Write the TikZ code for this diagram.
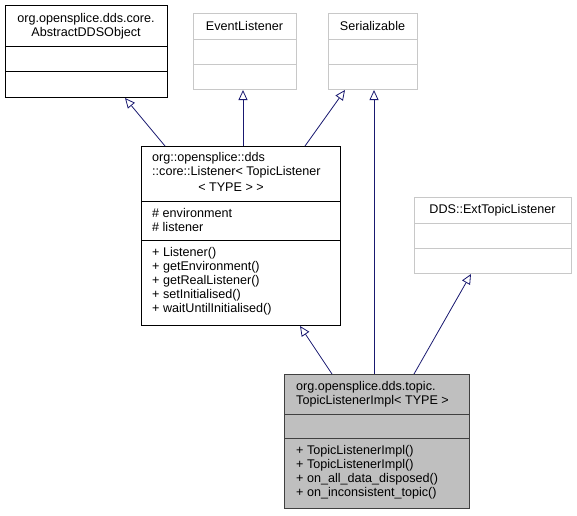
\documentclass[tikz,border=0pt]{standalone}
\usepackage{fontspec}
\setmainfont{Liberation Sans}
\usetikzlibrary{arrows.meta,calc}
\definecolor{edgeblue}{HTML}{191970}
\definecolor{lightborder}{HTML}{C8C8C8}
\definecolor{implfill}{HTML}{BFBFBF}
\definecolor{implborder}{HTML}{404040}
\begin{document}
\begin{tikzpicture}[x=1pt,y=-1pt,
  cls/.style={draw, rectangle, inner sep=0pt, anchor=north west, line width=1pt},
  blackcls/.style={cls, draw=black},
  greycls/.style={cls, draw=lightborder},
  implcls/.style={cls, draw=implborder, fill=implfill},
  txt/.style={inner sep=0pt, font=\fontsize{12.6}{14}\selectfont},
  ctxt/.style={txt, align=center, anchor=center},
  ltxt/.style={txt, align=left, anchor=west},
  inherit/.style={draw=edgeblue, line width=0.8pt, -{Triangle[open, length=10pt, width=9pt, fill=white]}}
]
\useasboundingbox (0,0) rectangle (577,515);

% boxes
\node[blackcls, minimum width=162pt, minimum height=92pt] (abs) at (5,5) {};
\node[greycls, minimum width=103pt, minimum height=76pt] (ev) at (193,13) {};
\node[greycls, minimum width=89pt, minimum height=76pt] (ser) at (328,13) {};
\node[greycls, minimum width=157pt, minimum height=76pt] (ext) at (414,197) {};
\node[blackcls, minimum width=199pt, minimum height=179pt] (lst) at (141,146) {};
\node[implcls, minimum width=185pt, minimum height=134pt] (impl) at (284,374) {};

% dividers
\draw[line width=1pt, black] (abs.west |- 0,46) -- (abs.east |- 0,46);
\draw[line width=1pt, black] (abs.west |- 0,71) -- (abs.east |- 0,71);
\draw[line width=1pt, lightborder] (ev.west |- 0,39) -- (ev.east |- 0,39);
\draw[line width=1pt, lightborder] (ev.west |- 0,64) -- (ev.east |- 0,64);
\draw[line width=1pt, lightborder] (ser.west |- 0,39) -- (ser.east |- 0,39);
\draw[line width=1pt, lightborder] (ser.west |- 0,64) -- (ser.east |- 0,64);
\draw[line width=1pt, lightborder] (ext.west |- 0,223) -- (ext.east |- 0,223);
\draw[line width=1pt, lightborder] (ext.west |- 0,248) -- (ext.east |- 0,248);
\draw[line width=1pt, black] (lst.west |- 0,201) -- (lst.east |- 0,201);
\draw[line width=1pt, black] (lst.west |- 0,240) -- (lst.east |- 0,240);
\draw[line width=1pt, implborder] (impl.west |- 0,414) -- (impl.east |- 0,414);
\draw[line width=1pt, implborder] (impl.west |- 0,438) -- (impl.east |- 0,438);

% texts
\node[ctxt] (absT) at (86,26.5) {org.opensplice.dds.core.\\AbstractDDSObject};
\node[ctxt] (evT) at (244.5,26) {EventListener};
\node[ctxt] (serT) at (372.5,26) {Serializable};
\node[ctxt] (extT) at (492.5,210) {DDS::ExtTopicListener};
\node[ltxt] (lstT) at (152,165.5) {org::opensplice::dds\\::core::Listener< TopicListener};
\node[ctxt] (lstT2) at (231,187) {< TYPE > >};
\node[ltxt] (lstA) at (152,219.5) {\# environment\\\# listener};
\node[ltxt] (lstM) at (152,281) {+ Listener()\\+ getEnvironment()\\+ getRealListener()\\+ setInitialised()\\+ waitUntilInitialised()};
\node[ltxt] (implT) at (296,394.5) {org.opensplice.dds.topic.\\TopicListenerImpl< TYPE >};
\node[ltxt] (implM) at (296,472) {+ TopicListenerImpl()\\+ TopicListenerImpl()\\+ on\_all\_data\_disposed()\\+ on\_inconsistent\_topic()};

% inheritance connectors
\draw[inherit] ($(lst.north west)+(24,0)$) -- ($(abs.south west)+(120,0)$);
\draw[inherit] ($(lst.north west)+(102,0)$) -- ($(ev.south west)+(50,0)$);
\draw[inherit] ($(lst.north west)+(164,0)$) -- ($(ser.south west)+(17,0)$);
\draw[inherit] ($(impl.north west)+(90,0)$) -- ($(ser.south west)+(46,0)$);
\draw[inherit] ($(impl.north west)+(48,0)$) -- ($(lst.south west)+(159,0)$);
\draw[inherit] ($(impl.north west)+(130,0)$) -- ($(ext.south west)+(57,0)$);
\end{tikzpicture}
\end{document}
